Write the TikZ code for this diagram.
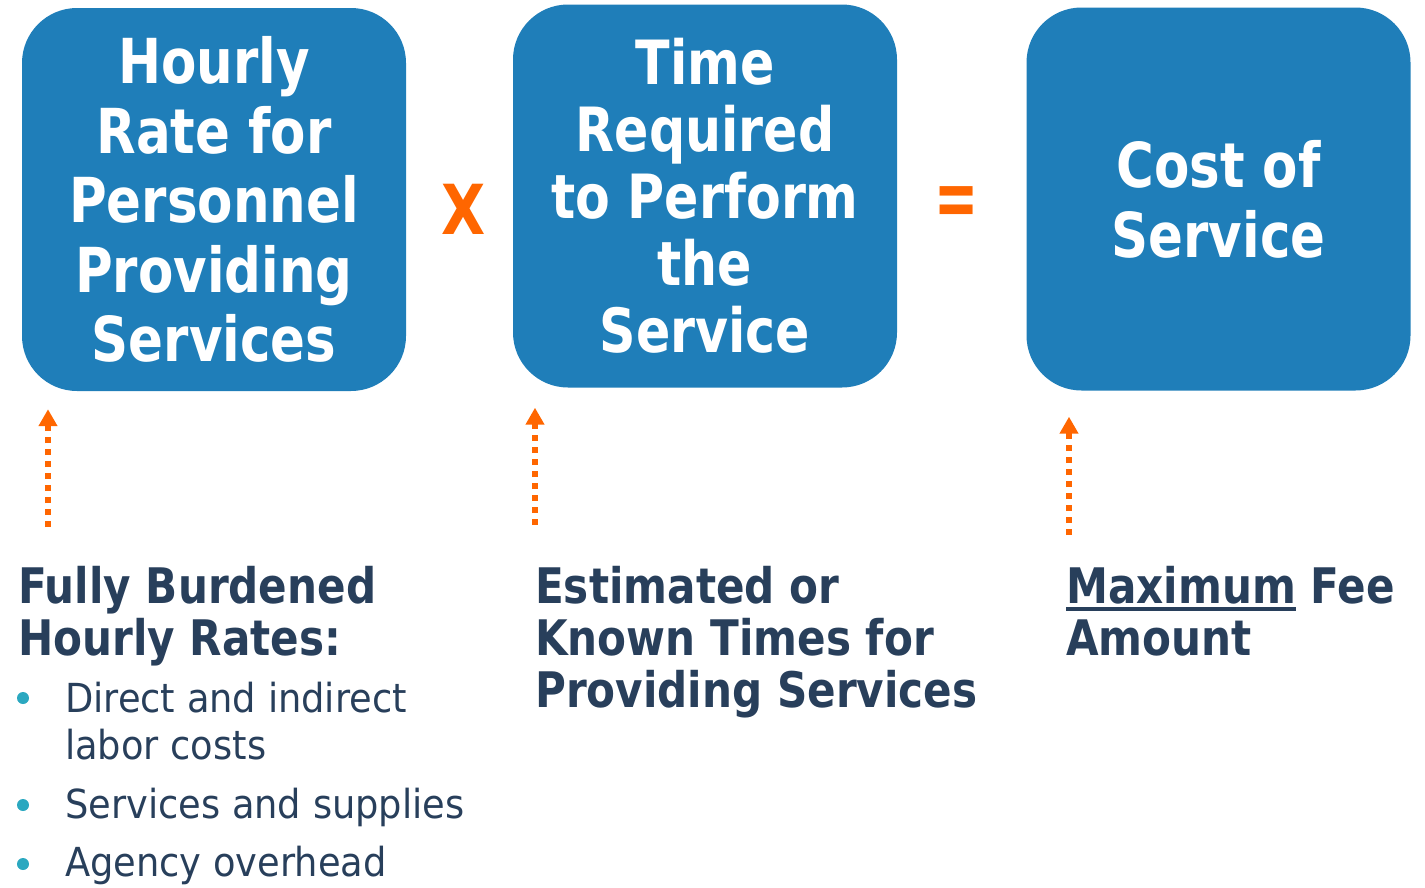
\documentclass[tikz,border=0pt]{standalone}
\usepackage{fontspec}
\setmainfont{DejaVu Sans}
\newfontfamily\boxfnt{DejaVu Sans}[FakeStretch=0.83]
\newfontfamily\labfnt{DejaVu Sans}[FakeStretch=0.86]
\newfontfamily\regfnt{DejaVu Sans}[FakeStretch=0.92]
\usetikzlibrary{arrows.meta}
\definecolor{boxblue}{HTML}{1F7EB9}
\definecolor{navy}{HTML}{283F5B}
\definecolor{orng}{HTML}{FF6600}
\definecolor{teal}{HTML}{2BA8C0}
\newcommand\ulbold[1]{\setbox0\hbox{#1}\rlap{\rule[-7.5pt]{\wd0}{4pt}}\box0\relax}
\tikzset{
  bigbox/.style={draw=none, fill=boxblue, rounded corners=55pt, minimum width=384pt,
    minimum height=383pt, text=white, align=center, inner sep=0pt},
  lab/.style={anchor=north west, inner sep=0pt, align=left, text=navy,
    font=\labfnt\bfseries\fontsize{49}{52}\selectfont},
  itm/.style={anchor=north west, inner sep=0pt, align=left, text=navy,
    font=\regfnt\fontsize{40}{47}\selectfont},
  bul/.style={circle, fill=teal, inner sep=0pt, minimum size=12pt},
  op/.style={text=orng, inner sep=0pt, font=\boxfnt\bfseries\fontsize{69}{70}\selectfont},
  uparrow/.style={draw=orng, line width=6pt, dash pattern=on 6pt off 6pt, line cap=butt,
    -{Triangle[width=18pt,length=17pt]}}
}
\begin{document}
\begin{tikzpicture}[x=1pt,y=1pt]
\useasboundingbox (0,0) rectangle (1425,-887);
% boxes
\node[bigbox, font=\boxfnt\bfseries\fontsize{62}{69.5}\selectfont] (b1) at (214,-199.5)
  {Hourly\\Rate for\\Personnel\\Providing\\Services};
\node[bigbox, font=\boxfnt\bfseries\fontsize{61}{67}\selectfont] (b2) at (705,-196)
  {Time\\Required\\to Perform\\the\\Service};
\node[bigbox, font=\boxfnt\bfseries\fontsize{62}{70}\selectfont] (b3) at (1218.5,-199)
  {Cost of\\Service};
% operators
\node[op] (times) at (464,-209) {X};
\node[op, xscale=0.92, yscale=1.2, transform shape] (eq) at (957,-207) {=};
% arrows
\coordinate (a1) at (48,-527);
\coordinate (a2) at (535,-525);
\coordinate (a3) at (1069,-535);
\draw[uparrow, shorten >=18pt] (a1) -- (a1 |- b1.south);
\draw[uparrow, shorten >=20pt] (a2) -- (a2 |- b2.south);
\draw[uparrow, shorten >=26pt] (a3) -- (a3 |- b3.south);
% labels
\node[lab] (l1) at (18,-566) {Fully Burdened\\Hourly Rates:};
\node[lab] (l2) at (535,-566) {Estimated or\\Known Times for\\Providing Services};
\node[lab] (l3) at (1066,-566) {\ulbold{Maximum} Fee\\Amount};
% bullets
\node[itm] (i1) at (65,-682) {Direct and indirect\\labor costs};
\node[itm] (i2) at (65,-788) {Services and supplies};
\node[itm] (i3) at (65,-846) {Agency overhead};
\node[bul] (d1) at (23,-698) {};
\node[bul] (d2) at (23,-805) {};
\node[bul] (d3) at (23,-864) {};
\end{tikzpicture}
\end{document}
